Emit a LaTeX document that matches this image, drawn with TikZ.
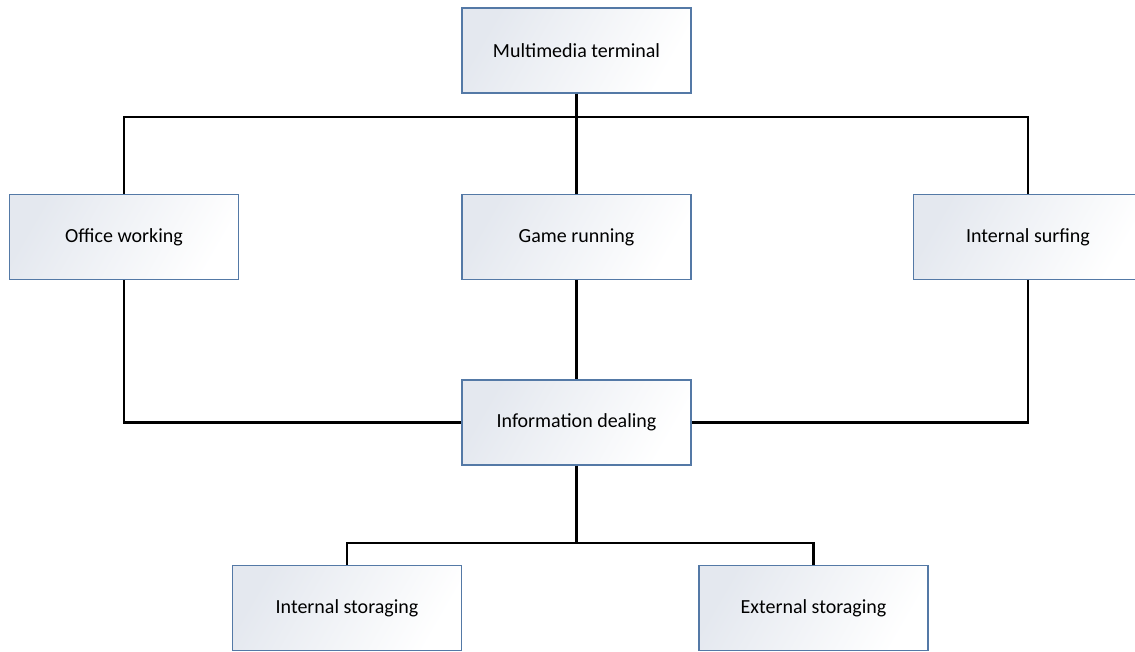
\documentclass[tikz,border=0pt]{standalone}
\usepackage{fontspec}
\setmainfont{Carlito}
\definecolor{boxborder}{HTML}{5479A6}
\definecolor{boxfill}{HTML}{E4E8EF}
\begin{document}
\begin{tikzpicture}[x=1pt,y=-1pt,
  blockbox/.style={draw=boxborder, line width=1.4pt, left color=boxfill, right color=white, shading angle=60,
    minimum width=229pt, minimum height=85pt, inner sep=0pt, font=\fontsize{20}{24}\selectfont},
  link/.style={draw=black, line width=2.3pt}]
\useasboundingbox (0,0) rectangle (1135,651);
\node[blockbox] (mt) at (576.5,50.5) {Multimedia terminal};
\node[blockbox] (ow) at (124,237) {Office working};
\node[blockbox] (gr) at (576.5,237) {Game running};
\node[blockbox] (isf) at (1028,237) {Internal surfing};
\node[blockbox] (id) at (576.5,422.5) {Information dealing};
\node[blockbox] (ins) at (347,608) {Internal storaging};
\node[blockbox] (exs) at (813.5,608) {External storaging};
\coordinate (b1) at (576.5,117);
\coordinate (b2) at (576.5,543);
\draw[link] (mt.south) -- (b1);
\draw[link] (ow.north) |- (b1) -| (isf.north);
\draw[link] (b1) -- (gr.north);
\draw[link] (gr.south) -- (id.north);
\draw[link] (ow.south) |- (id.west);
\draw[link] (isf.south) |- (id.east);
\draw[link] (id.south) -- (b2);
\draw[link] (ins.north) |- (b2) -| (exs.north);
\end{tikzpicture}
\end{document}
